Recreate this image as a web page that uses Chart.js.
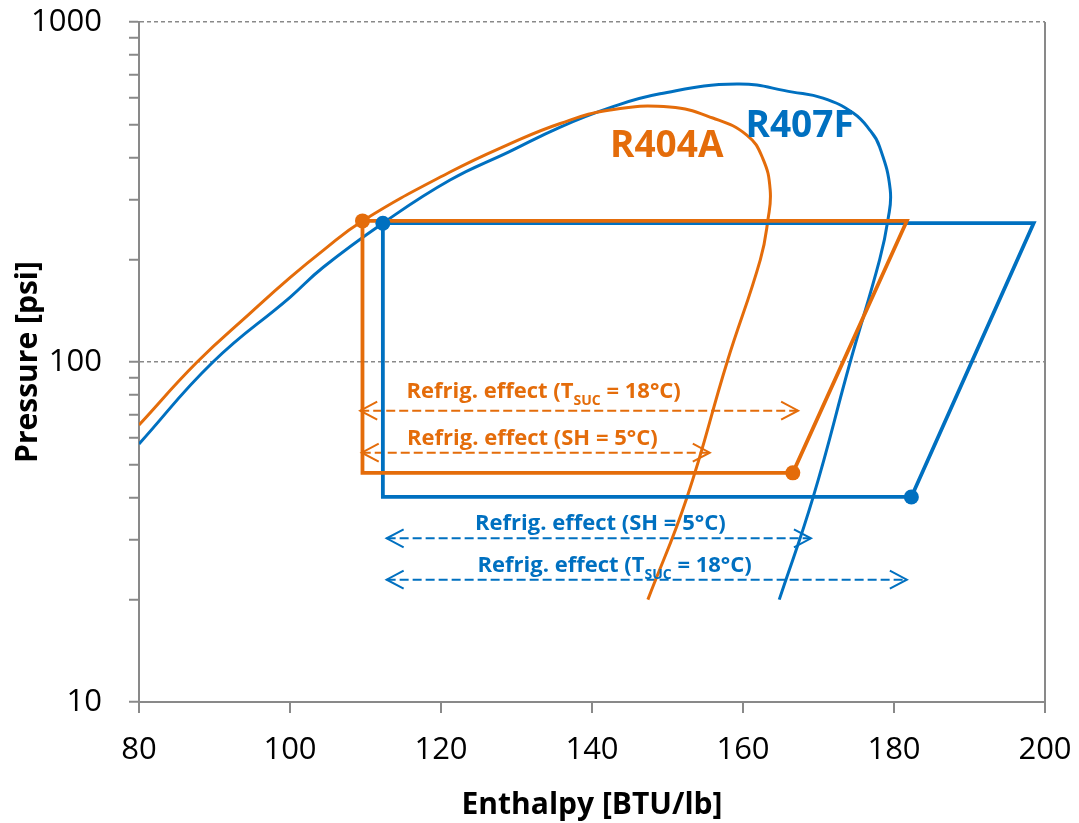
<!DOCTYPE html>
<html lang="en">
<head>
<meta charset="UTF-8">
<title>R404A vs R407F - P-h diagram</title>
<script src="https://cdn.jsdelivr.net/npm/chart.js"></script>
<style>
  body { margin: 0; background: #fff; }
  canvas { display: block; }
</style>
</head>
<body>
<canvas id="ph" width="1079" height="823"></canvas>
<script>
// axis ticks
const enthalpyTicks = [80, 100, 120, 140, 160, 180, 200];
const pressureTicks = [10, 20, 30, 40, 50, 60, 70, 80, 90, 100, 200, 300, 400, 500, 600, 700, 800, 900, 1000];

// saturation domes (enthalpy BTU/lb, pressure psi)
const r404aDomeH = [80, 87.7, 94.7, 100, 104.4, 109.6, 121.2, 129.1, 135.8, 142.4, 150.3, 156.0, 160.5, 162.6, 163.6, 163.3, 162.3, 157.9, 152.6, 147.4];
const r404aDomeP = [65.3, 100, 139, 177, 213, 260, 362, 438, 503, 551, 562, 522, 465, 398, 321, 262, 200, 100, 40.1, 20];
const r407fDomeH = [80, 89.8, 100, 104.4, 112.3, 121.2, 129.0, 135.8, 142.4, 149.0, 159.2, 166.6, 170.6, 174.6, 176.8, 178.1, 179.5, 179.2, 178.1, 174.2, 169.3, 164.8];
const r407fDomeP = [57.4, 100, 155, 190, 256, 343, 415, 491, 560, 615, 657, 622, 597, 540, 481, 429, 321, 262, 200, 100, 40.1, 20];

// cycles
const r404aCycleH = [109.6, 181.7, 166.6, 109.6, 109.6];
const r404aCycleP = [260, 260, 47.2, 47.2, 260];
const r407fCycleH = [112.3, 198.5, 182.3, 112.3, 112.3];
const r407fCycleP = [256, 256, 40.1, 40.1, 256];

// state points marked with dots
const r404aDotH = [109.6, 166.6];
const r404aDotP = [260, 47.2];
const r407fDotH = [112.3, 182.3];
const r407fDotP = [256, 40.1];

// refrigerating effect arrows
const r404aTsucH = [109.3, 167.3], r404aTsucP = [71.9, 71.9];
const r404aShH = [109.5, 155.6], r404aShP = [54.1, 54.1];
const r407fShH = [112.8, 169.0], r407fShP = [30.3, 30.3];
const r407fTsucH = [112.8, 181.7], r407fTsucP = [22.9, 22.9];

const ORANGE = '#E46C0A', BLUE = '#0070C0', GREY = '#898989';
const FONT = '"Open Sans", "DejaVu Sans", sans-serif';

// text labels, anchored at baseline centre in data coords
const notes = [
  { parts: ['R404A'], h: 149.9, p: 401, color: ORANGE, size: 37 },
  { parts: ['R407F'], h: 167.5, p: 459, color: BLUE, size: 37 },
  { parts: ['Refrig. effect (T', 'SUC', ' = 18°C)'], h: 133.6, p: 78.3, color: ORANGE, size: 22 },
  { parts: ['Refrig. effect (SH = 5°C)'], h: 132.1, p: 57.0, color: ORANGE, size: 22 },
  { parts: ['Refrig. effect (SH = 5°C)'], h: 141.1, p: 32.1, color: BLUE, size: 22 },
  { parts: ['Refrig. effect (T', 'SUC', ' = 18°C)'], h: 143.0, p: 24.1, color: BLUE, size: 22 }
];

function pts(hs, ps) { return hs.map((h, i) => ({ x: h, y: ps[i] })); }
function isDecade(v) { const l = Math.log10(v); return Math.abs(l - Math.round(l)) < 1e-9; }

function line(data, color, width, extra) {
  return Object.assign({ data: data, showLine: true, borderColor: color, backgroundColor: color,
    borderWidth: width, pointRadius: 0, fill: false }, extra || {});
}
function arrow(data, color) {
  return line(data, color, 2, { borderDash: [9, 4], arrow: true });
}

function drawHead(ctx, tip, from, color) {
  const dir = tip.x > from.x ? 1 : -1;
  ctx.save();
  ctx.strokeStyle = color;
  ctx.lineWidth = 2;
  ctx.beginPath();
  ctx.moveTo(tip.x - dir * 17, tip.y - 9);
  ctx.lineTo(tip.x, tip.y);
  ctx.lineTo(tip.x - dir * 17, tip.y + 9);
  ctx.stroke();
  ctx.restore();
}

function drawNote(ctx, n, cx, by) {
  const big = 'bold ' + n.size + 'px ' + FONT;
  const small = 'bold ' + Math.round(n.size * 0.65) + 'px ' + FONT;
  ctx.save();
  ctx.fillStyle = n.color;
  ctx.textBaseline = 'alphabetic';
  ctx.textAlign = 'left';
  let total = 0;
  n.parts.forEach((t, i) => { ctx.font = i === 1 ? small : big; total += ctx.measureText(t).width; });
  let x = cx - total / 2;
  n.parts.forEach((t, i) => {
    ctx.font = i === 1 ? small : big;
    ctx.fillText(t, x, i === 1 ? by + n.size * 0.32 : by);
    x += ctx.measureText(t).width;
  });
  ctx.restore();
}

const annotate = {
  id: 'annotate',
  afterDatasetsDraw(chart) {
    const { ctx, scales } = chart;
    chart.data.datasets.forEach((ds, i) => {
      if (!ds.arrow) return;
      const el = chart.getDatasetMeta(i).data;
      const a = el[0], b = el[el.length - 1];
      drawHead(ctx, a, b, ds.borderColor);
      drawHead(ctx, b, a, ds.borderColor);
    });
    notes.forEach(n => drawNote(ctx, n, scales.x.getPixelForValue(n.h), scales.y.getPixelForValue(n.p)));
  }
};

new Chart(document.getElementById('ph'), {
  type: 'scatter',
  data: {
    datasets: [
      line(pts(r404aDotH, r404aDotP), ORANGE, 0, { showLine: false, pointRadius: 7.5 }),
      line(pts(r407fDotH, r407fDotP), BLUE, 0, { showLine: false, pointRadius: 7.5 }),
      line(pts(r404aCycleH, r404aCycleP), ORANGE, 3.8),
      line(pts(r407fCycleH, r407fCycleP), BLUE, 3.8),
      line(pts(r404aDomeH, r404aDomeP), ORANGE, 3, { tension: 0.45 }),
      line(pts(r407fDomeH, r407fDomeP), BLUE, 3, { tension: 0.45 }),
      arrow(pts(r404aTsucH, r404aTsucP), ORANGE),
      arrow(pts(r404aShH, r404aShP), ORANGE),
      arrow(pts(r407fShH, r407fShP), BLUE),
      arrow(pts(r407fTsucH, r407fTsucP), BLUE)
    ]
  },
  options: {
    responsive: false,
    animation: false,
    layout: { padding: { top: 22, right: 34, left: 0, bottom: 0 } },
    plugins: { legend: { display: false }, tooltip: { enabled: false } },
    scales: {
      x: {
        type: 'linear', min: 80, max: 200,
        afterBuildTicks: s => { s.ticks = enthalpyTicks.map(v => ({ value: v })); },
        afterFit: s => { s.height = 121; s.paddingLeft = 0; s.paddingRight = 0; },
        ticks: { padding: 19, color: '#000', font: { family: FONT, size: 31 } },
        grid: {
          color: c => (c.tick && c.tick.value === 200) ? GREY : 'rgba(0,0,0,0)',
          lineWidth: 2, tickColor: GREY, tickLength: 11, tickWidth: 2
        },
        border: { color: GREY, width: 2 },
        title: { display: true, text: 'Enthalpy [BTU/lb]', color: '#000',
          font: { family: FONT, size: 30, weight: 'bold' }, padding: { top: 0, bottom: 0 } }
      },
      y: {
        type: 'logarithmic', min: 10, max: 1000,
        afterBuildTicks: s => { s.ticks = pressureTicks.map(v => ({ value: v })); },
        afterFit: s => { s.width = 139; s.paddingTop = 0; s.paddingBottom = 0; },
        ticks: { autoSkip: false, padding: 27, color: '#000', font: { family: FONT, size: 31 },
          callback: v => isDecade(v) ? String(v) : '' },
        grid: {
          color: c => (c.tick && c.tick.value > 10 && isDecade(c.tick.value)) ? GREY : 'rgba(0,0,0,0)',
          lineWidth: 1.5, tickColor: GREY, tickLength: 10, tickWidth: 2
        },
        border: { color: GREY, width: 2, dash: [4, 3] },
        title: { display: true, text: 'Pressure [psi]', color: '#000',
          font: { family: FONT, size: 30, weight: 'bold' }, padding: { top: 10, bottom: 0 } }
      }
    }
  },
  plugins: [annotate]
});
</script>
</body>
</html>
